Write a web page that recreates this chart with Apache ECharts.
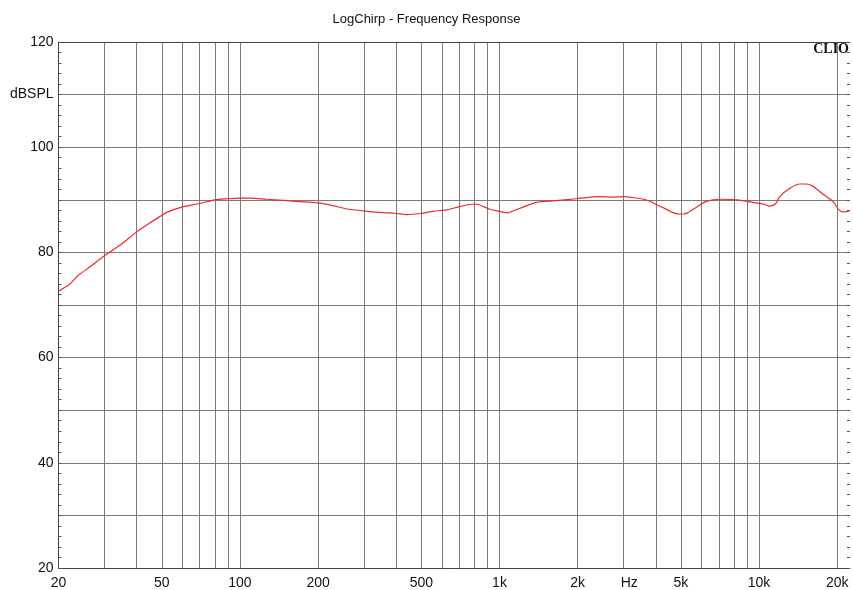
<!DOCTYPE html>
<html>
<head>
<meta charset="utf-8">
<script src="https://cdn.jsdelivr.net/npm/echarts@6/dist/echarts.min.js"></script>
<style>
html,body{margin:0;padding:0;background:#fff;}
#c{width:853px;height:590px;}
</style>
</head>
<body>
<div id="c"></div>
<script>
// Frequency (Hz) and level (dBSPL)
var freqs = [20, 22.1, 23.8, 26.5, 29.8, 35, 40, 45, 49.9, 52.2, 59.7, 70, 80, 90, 100, 110, 126.6, 147, 165, 200,
  228, 256, 298, 345, 400, 438, 494, 555, 625, 703, 794, 830, 918, 1000, 1075, 1105, 1200, 1390, 1605, 1970,
  2420, 2740, 3030, 3170, 3660, 4230, 4890, 5110, 5660, 6260, 7120, 8220, 9230, 10400, 11000, 11600, 12000,
  13150, 14350, 15200, 16100, 17600, 19300, 20500, 21700, 22400];
var levels = [72.6, 74.0, 75.6, 77.3, 79.2, 81.6, 83.9, 85.6, 87.0, 87.6, 88.6, 89.3, 90.0, 90.2, 90.3, 90.3, 90.1, 89.9, 89.7, 89.4,
  88.9, 88.3, 87.9, 87.6, 87.4, 87.2, 87.4, 87.8, 88.1, 88.7, 89.2, 89.1, 88.2, 87.8, 87.5, 87.7, 88.4, 89.5, 89.8, 90.2,
  90.6, 90.5, 90.6, 90.5, 90.0, 88.6, 87.3, 87.3, 88.4, 89.7, 90.1, 90.0, 89.6, 89.2, 88.8, 89.3, 90.6,
  92.2, 93.0, 93.0, 92.6, 91.1, 89.6, 87.9, 87.7, 88.0];
var gridFreqs = [20, 30, 40, 50, 60, 70, 80, 90, 100, 200, 300, 400, 500, 600, 700, 800, 900,
  1000, 2000, 3000, 4000, 5000, 6000, 7000, 8000, 9000, 10000, 20000];
var labelFreqs = [20, 50, 100, 200, 500, 1000, 2000, 3162, 5000, 10000, 20000];
var labelTexts = ['20', '50', '100', '200', '500', '1k', '2k', 'Hz', '5k', '10k', '20k'];
var fMin = 20, fMax = 22400;

var lg = function (v) { return Math.log10(v); };
var data = freqs.map(function (f, i) { return [lg(f), levels[i]]; });
var xMin = lg(fMin), xMax = lg(fMax);
var labelPos = labelFreqs.map(lg);

var chart = echarts.init(document.getElementById('c'));
var font = 'Liberation Sans, Arial, sans-serif';
chart.setOption({
  animation: false,
  backgroundColor: '#fff',
  title: {
    text: 'LogChirp - Frequency Response',
    left: 'center', top: 8,
    textStyle: { fontFamily: font, fontSize: 13, fontWeight: 'normal', color: '#111' }
  },
  grid: { left: 58.5, right: 3, top: 42, bottom: 22, containLabel: false, outerBoundsMode: 'none' },
  xAxis: [{
    type: 'value', min: xMin, max: xMax,
    axisLine: { show: true, lineStyle: { color: '#444', width: 1 } },
    axisTick: { show: false, customValues: gridFreqs.map(lg) },
    splitLine: { show: true, lineStyle: { color: '#7a7a7a', width: 1 } },
    axisLabel: {
      customValues: labelPos,
      margin: 8,
      fontFamily: font, fontSize: 14, color: '#111',
      formatter: function (v) {
        var best = 0, d = 1e9;
        for (var i = 0; i < labelPos.length; i++) {
          var dd = Math.abs(labelPos[i] - v);
          if (dd < d) { d = dd; best = i; }
        }
        return labelTexts[best];
      }
    }
  }, {
    type: 'value', min: xMin, max: xMax, position: 'top',
    axisLine: { show: true, lineStyle: { color: '#444', width: 1 } },
    axisTick: { show: false }, axisLabel: { show: false }, splitLine: { show: false }
  }],
  yAxis: [{
    type: 'value', min: 20, max: 120, interval: 10,
    axisLine: { show: true, lineStyle: { color: '#444', width: 1 } },
    axisTick: { show: true, inside: true, length: 3, lineStyle: { color: '#555' } },
    minorTick: { show: true, splitNumber: 5, length: 3, lineStyle: { color: '#555' } },
    splitLine: { show: true, lineStyle: { color: '#7a7a7a', width: 1 } },
    axisLabel: {
      margin: 5, fontFamily: font, fontSize: 14, color: '#111',
      formatter: function (v) {
        if (v === 110) return 'dBSPL';
        if (v % 20 === 0) return String(v);
        return '';
      }
    }
  }, {
    type: 'value', min: 20, max: 120, interval: 10, position: 'right',
    axisLine: { show: false },
    axisTick: { show: true, inside: true, length: 3, lineStyle: { color: '#555' } },
    minorTick: { show: true, splitNumber: 5, length: 3, lineStyle: { color: '#555' } },
    splitLine: { show: false },
    axisLabel: { show: false }
  }],
  graphic: [{
    type: 'text', right: 4, top: 42,
    style: { text: 'CLIO', fontFamily: 'Liberation Serif, DejaVu Serif, serif', fontWeight: 'bold', fontSize: 14, fill: '#111' }
  }],
  series: [{
    type: 'line', data: data, xAxisIndex: 0, yAxisIndex: 0,
    showSymbol: false, symbol: 'none', smooth: 0.3,
    lineStyle: { color: '#ee2a2a', width: 1.2 }
  }]
});
</script>
</body>
</html>
